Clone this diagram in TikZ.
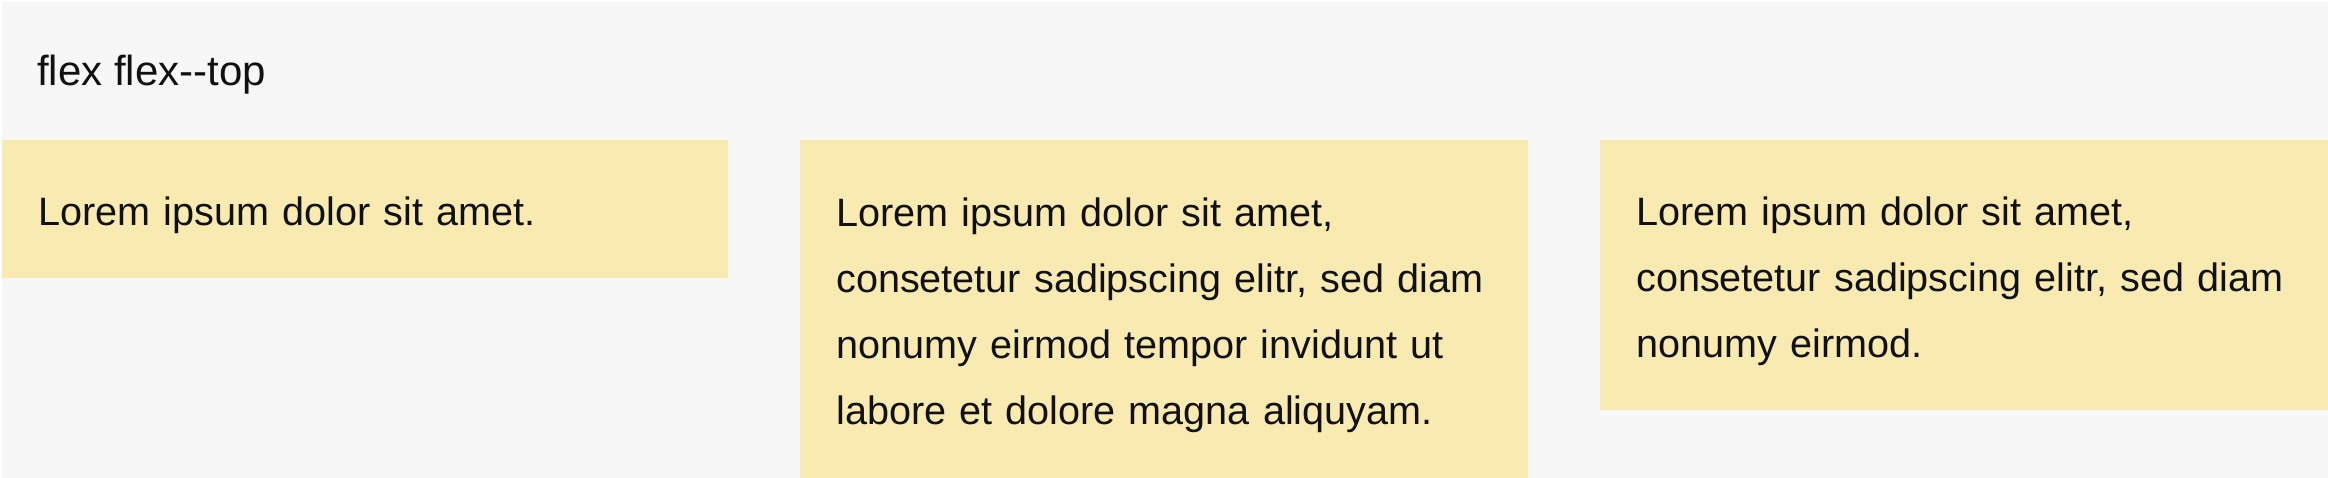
\documentclass[tikz,border=0pt]{standalone}
\usepackage{fontspec}
\setmainfont{Liberation Sans}
\usepackage{tikz}
\usetikzlibrary{positioning}

\definecolor{pagebg}{HTML}{F7F7F7}
\definecolor{itembg}{HTML}{F8EAB0}
\definecolor{ink}{HTML}{111111}
\newcommand{\lstrut}{\rule[-17pt]{0pt}{66pt}}

\begin{document}
\begin{tikzpicture}[x=1pt,y=-1pt,
    title node/.style={anchor=base west,inner sep=0pt,text=ink,font=\fontsize{42}{66}\selectfont},
    item node/.style={anchor=north west,fill=itembg,text=ink,inner xsep=36pt,inner ysep=36pt,
      text width=656pt,align=left,font=\fontsize{39.6}{66}\selectfont}]

  \useasboundingbox (0,0) rectangle (2328,478);
  \fill[white] (0,0) rectangle (2328,478);
  \fill[pagebg] (2,2) rectangle (2328,478);

  \node[title node] (title) at (37,86) {flex flex-{}-top};

  \node[item node,text width=654pt] (first) at (2,140) {\lstrut Lorem ipsum dolor sit amet.};
  \node[item node,minimum height=338pt] (second) at (800,140) {\lstrut Lorem ipsum dolor sit amet,\\
    \lstrut consetetur sadipscing elitr, sed diam\\
    \lstrut nonumy eirmod tempor invidunt ut\\
    \lstrut labore et dolore magna aliquyam.};
  \node[item node] (third) at (1600,140) {\lstrut Lorem ipsum dolor sit amet,\\
    \lstrut consetetur sadipscing elitr, sed diam\\
    \lstrut nonumy eirmod.};

\end{tikzpicture}
\end{document}
